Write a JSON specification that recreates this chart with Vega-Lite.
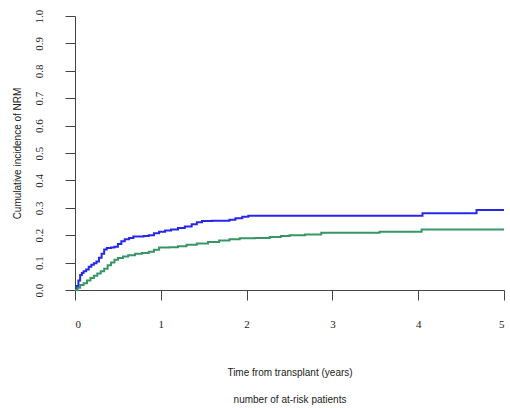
{
  "$schema": "https://vega.github.io/schema/vega-lite/v6.json",
  "width": 429,
  "height": 274,
  "autosize": {"type": "none"},
  "padding": {"left": 75, "top": 16, "right": 6, "bottom": 118},
  "background": "white",
  "config": {"view": {"stroke": null}},
  "data": {"values": [
    {"t": 0, "v": 0, "g": "A"},
    {"t": 0.02, "v": 0.015, "g": "A"},
    {"t": 0.04, "v": 0.035, "g": "A"},
    {"t": 0.06, "v": 0.055, "g": "A"},
    {"t": 0.08, "v": 0.062, "g": "A"},
    {"t": 0.10, "v": 0.068, "g": "A"},
    {"t": 0.13, "v": 0.075, "g": "A"},
    {"t": 0.16, "v": 0.085, "g": "A"},
    {"t": 0.19, "v": 0.092, "g": "A"},
    {"t": 0.22, "v": 0.098, "g": "A"},
    {"t": 0.25, "v": 0.104, "g": "A"},
    {"t": 0.28, "v": 0.118, "g": "A"},
    {"t": 0.31, "v": 0.132, "g": "A"},
    {"t": 0.34, "v": 0.148, "g": "A"},
    {"t": 0.37, "v": 0.153, "g": "A"},
    {"t": 0.42, "v": 0.155, "g": "A"},
    {"t": 0.46, "v": 0.158, "g": "A"},
    {"t": 0.50, "v": 0.168, "g": "A"},
    {"t": 0.54, "v": 0.178, "g": "A"},
    {"t": 0.58, "v": 0.185, "g": "A"},
    {"t": 0.63, "v": 0.190, "g": "A"},
    {"t": 0.68, "v": 0.195, "g": "A"},
    {"t": 0.80, "v": 0.197, "g": "A"},
    {"t": 0.86, "v": 0.200, "g": "A"},
    {"t": 0.92, "v": 0.207, "g": "A"},
    {"t": 0.98, "v": 0.213, "g": "A"},
    {"t": 1.05, "v": 0.217, "g": "A"},
    {"t": 1.12, "v": 0.221, "g": "A"},
    {"t": 1.20, "v": 0.226, "g": "A"},
    {"t": 1.28, "v": 0.232, "g": "A"},
    {"t": 1.36, "v": 0.240, "g": "A"},
    {"t": 1.42, "v": 0.247, "g": "A"},
    {"t": 1.48, "v": 0.252, "g": "A"},
    {"t": 1.60, "v": 0.253, "g": "A"},
    {"t": 1.80, "v": 0.256, "g": "A"},
    {"t": 1.87, "v": 0.262, "g": "A"},
    {"t": 1.95, "v": 0.267, "g": "A"},
    {"t": 2.02, "v": 0.271, "g": "A"},
    {"t": 4.05, "v": 0.280, "g": "A"},
    {"t": 4.68, "v": 0.292, "g": "A"},
    {"t": 5.0, "v": 0.292, "g": "A"},
    {"t": 0, "v": 0, "g": "B"},
    {"t": 0.03, "v": 0.008, "g": "B"},
    {"t": 0.06, "v": 0.018, "g": "B"},
    {"t": 0.10, "v": 0.025, "g": "B"},
    {"t": 0.14, "v": 0.035, "g": "B"},
    {"t": 0.18, "v": 0.044, "g": "B"},
    {"t": 0.22, "v": 0.052, "g": "B"},
    {"t": 0.26, "v": 0.060, "g": "B"},
    {"t": 0.30, "v": 0.068, "g": "B"},
    {"t": 0.34, "v": 0.078, "g": "B"},
    {"t": 0.38, "v": 0.090, "g": "B"},
    {"t": 0.42, "v": 0.100, "g": "B"},
    {"t": 0.46, "v": 0.110, "g": "B"},
    {"t": 0.50, "v": 0.117, "g": "B"},
    {"t": 0.56, "v": 0.122, "g": "B"},
    {"t": 0.62, "v": 0.127, "g": "B"},
    {"t": 0.70, "v": 0.132, "g": "B"},
    {"t": 0.78, "v": 0.135, "g": "B"},
    {"t": 0.86, "v": 0.140, "g": "B"},
    {"t": 0.92, "v": 0.147, "g": "B"},
    {"t": 0.98, "v": 0.155, "g": "B"},
    {"t": 1.10, "v": 0.156, "g": "B"},
    {"t": 1.20, "v": 0.160, "g": "B"},
    {"t": 1.30, "v": 0.165, "g": "B"},
    {"t": 1.42, "v": 0.170, "g": "B"},
    {"t": 1.55, "v": 0.175, "g": "B"},
    {"t": 1.68, "v": 0.181, "g": "B"},
    {"t": 1.80, "v": 0.185, "g": "B"},
    {"t": 1.92, "v": 0.189, "g": "B"},
    {"t": 2.10, "v": 0.190, "g": "B"},
    {"t": 2.27, "v": 0.193, "g": "B"},
    {"t": 2.40, "v": 0.197, "g": "B"},
    {"t": 2.50, "v": 0.200, "g": "B"},
    {"t": 2.68, "v": 0.203, "g": "B"},
    {"t": 2.87, "v": 0.209, "g": "B"},
    {"t": 3.55, "v": 0.213, "g": "B"},
    {"t": 4.04, "v": 0.221, "g": "B"},
    {"t": 5.0, "v": 0.221, "g": "B"}
  ]},
  "mark": {"type": "line", "interpolate": "step-after", "strokeWidth": 2, "clip": false},
  "encoding": {
    "x": {
      "field": "t", "type": "quantitative",
      "scale": {"domain": [0, 5], "nice": false, "zero": false},
      "axis": {
        "values": [0, 1, 2, 3, 4, 5],
        "format": "d",
        "grid": false,
        "domainColor": "#444",
        "tickColor": "#444",
        "tickSize": 10,
        "labelFont": "Liberation Serif",
        "labelFontSize": 11,
        "labelColor": "#222",
        "labelPadding": 18,
        "title": ["Time from transplant (years)", "number of at-risk patients"],
        "titleFont": "Liberation Sans",
        "titleFontSize": 10,
        "titleFontWeight": "normal",
        "titleColor": "#222",
        "titleLineHeight": 27,
        "titleBaseline": "top",
        "titleY": 77
      }
    },
    "y": {
      "field": "v", "type": "quantitative",
      "scale": {"domain": [0, 1], "nice": false},
      "axis": {
        "values": [0, 0.1, 0.2, 0.3, 0.4, 0.5, 0.6, 0.7, 0.8, 0.9, 1.0],
        "format": ".1f",
        "grid": false,
        "domainColor": "#444",
        "tickColor": "#444",
        "tickSize": 10,
        "labelFont": "Liberation Serif",
        "labelFontSize": 11,
        "labelColor": "#222",
        "labelAngle": -90,
        "labelAlign": "center",
        "labelBaseline": "bottom",
        "labelPadding": 21,
        "title": "Cumulative incidence of NRM",
        "titleFont": "Liberation Sans",
        "titleFontSize": 10,
        "titleFontWeight": "normal",
        "titleColor": "#222",
        "titleAngle": -90,
        "titleAlign": "center",
        "titleBaseline": "middle",
        "titleX": -58,
        "titleY": 137
      }
    },
    "color": {
      "field": "g", "type": "nominal",
      "scale": {"domain": ["A", "B"], "range": ["#2727ec", "#3a9566"]},
      "legend": null
    }
  }
}
